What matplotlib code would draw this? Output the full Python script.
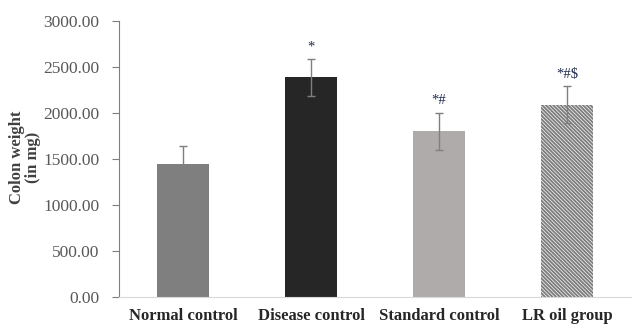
import matplotlib
matplotlib.use("Agg")
import matplotlib.pyplot as plt
import numpy as np

groups = ["Normal control", "Disease control", "Standard control", "LR oil group"]
weights = [1450, 2390, 1800, 2090]
errors = [195, 200, 200, 200]
marks = ["", "*", "*#", "*#$"]
colors = ["#7f7f7f", "#262626", "#afabab", "white"]

plt.rcParams["font.family"] = ["Liberation Serif", "DejaVu Serif"]
plt.rcParams["hatch.linewidth"] = 1.4

fig = plt.figure(figsize=(6.33, 3.25), dpi=100)
ax = fig.add_axes([119/633, 28/325, 512/633, 276/325])

x = np.arange(len(groups))
bars = ax.bar(x, weights, width=0.41, color=colors, linewidth=0, zorder=2)
bars[3].set_hatch("\\" * 9)
bars[3].set_edgecolor("#7f7f7f")
ax.errorbar(x, weights, yerr=errors, fmt="none", ecolor="#7f7f7f",
            elinewidth=1, capsize=3, capthick=1, zorder=3)

for xi, w, e, m in zip(x, weights, errors, marks):
    if m:
        ax.text(xi, w + e + 60, m, ha="center", va="bottom",
                fontsize=10.5, color="#1f2d4d")

ax.set_xlim(-0.5, 3.5)
ax.set_ylim(0, 3000)
ax.set_yticks(np.arange(0, 3001, 500))
ax.set_yticklabels([f"{v:.2f}" for v in np.arange(0, 3001, 500)])
ax.set_xticks(x)
ax.set_xticklabels(groups, fontweight="bold", fontsize=12, color="#262626")
ax.tick_params(axis="x", length=0, pad=8)
ax.tick_params(axis="y", length=5, color="#7f7f7f", labelsize=12.5,
               labelcolor="#595959", pad=9)

for s in ["top", "right"]:
    ax.spines[s].set_visible(False)
ax.spines["left"].set_color("#7f7f7f")
ax.spines["bottom"].set_color("#d9d9d9")

fig.text(25/633, 0.515, "Colon weight\n(in mg)", rotation=90, ha="center",
         va="center", fontweight="bold", fontsize=12, color="#404040",
         linespacing=1.05)

fig.savefig("out.png", dpi=100)
